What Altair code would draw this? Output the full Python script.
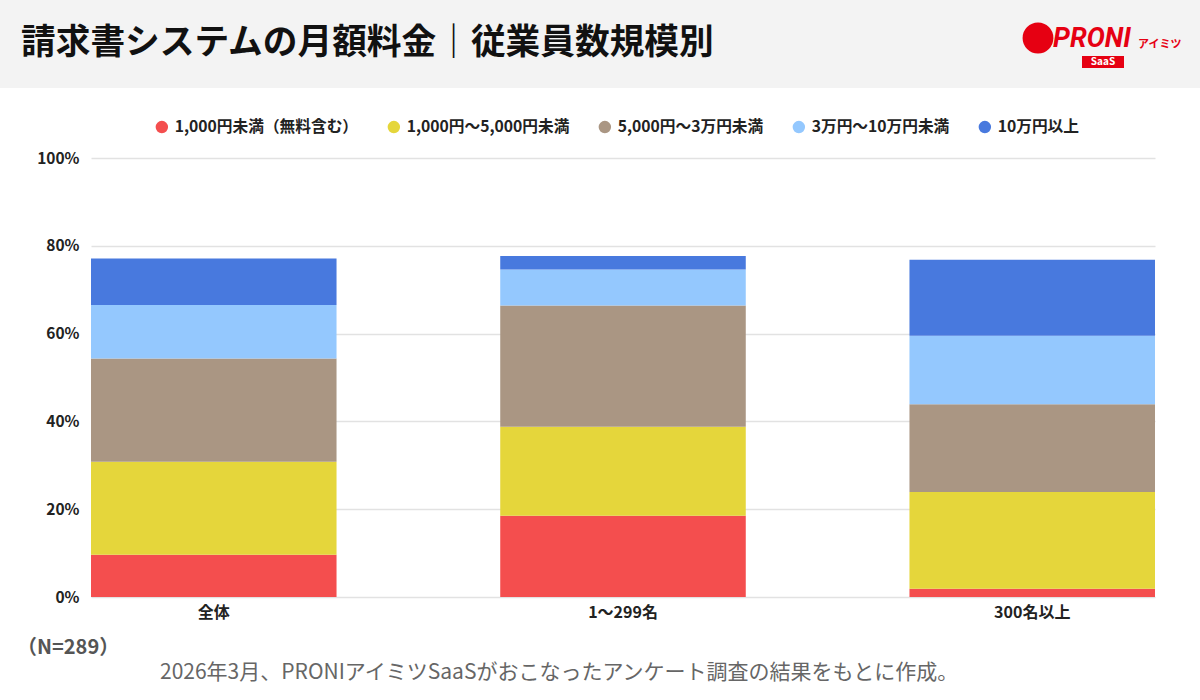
import altair as alt
import pandas as pd

categories = ["全体", "1〜299名", "300名以上"]
series = ["1,000円未満（無料含む）", "1,000円〜5,000円未満", "5,000円〜3万円未満", "3万円〜10万円未満", "10万円以上"]
colors = ["#F44E4E", "#E5D63B", "#AA9683", "#94C8FE", "#4879DE"]
values = {
    "1,000円未満（無料含む）": [9.6, 18.5, 1.9],
    "1,000円〜5,000円未満": [21.2, 20.3, 22.0],
    "5,000円〜3万円未満": [23.5, 27.6, 20.0],
    "3万円〜10万円未満": [12.2, 8.2, 15.6],
    "10万円以上": [10.6, 3.1, 17.3],
}
y_ticks = [0, 20, 40, 60, 80, 100]
title_text = "請求書システムの月額料金｜従業員数規模別"
n_text = "（N=289）"
source_text = "2026年3月、PRONIアイミツSaaSがおこなったアンケート調査の結果をもとに作成。"

rows = []
for si, s in enumerate(series):
    for ci, c in enumerate(categories):
        rows.append({"category": c, "series": s, "order": si, "value": values[s][ci]})
df = pd.DataFrame(rows)

FONT = "Noto Sans CJK JP"
PL, PT = 91, 158
W, H = 1064, 439


def X(px):
    return px - PL


def Y(py):
    return py - PT


bars = alt.Chart(df).mark_bar().encode(
    x=alt.X("category:N", sort=categories,
            scale=alt.Scale(paddingInner=0.4, paddingOuter=0),
            axis=alt.Axis(title=None, labelAngle=0, ticks=False, domain=False,
                          labelFont=FONT, labelFontSize=16, labelFontWeight="bold",
                          labelColor="#222222", labelPadding=7)),
    y=alt.Y("value:Q", stack="zero", scale=alt.Scale(domain=[0, 100], nice=False),
            axis=alt.Axis(title=None, values=y_ticks, labelExpr="datum.value + '%'",
                          ticks=False, domain=False, labelFont=FONT, labelFontSize=15.5,
                          labelFontWeight="bold", labelColor="#222222", labelPadding=12,
                          gridColor="#E2E2E2", gridWidth=1.5)),
    color=alt.Color("series:N", sort=series,
                    scale=alt.Scale(domain=series, range=colors),
                    legend=alt.Legend(title=None, orient="none", direction="horizontal",
                                      legendX=X(154), legendY=Y(119),
                                      symbolType="circle", symbolSize=155,
                                      symbolStrokeWidth=0, symbolOpacity=1,
                                      labelFont=FONT, labelFontSize=15.7,
                                      labelFontWeight="bold", labelColor="#222222",
                                      labelOffset=5, columnPadding=27,
                                      labelLimit=300)),
    order=alt.Order("order:Q", sort="ascending"),
)

one = alt.Data(values=[{}])

header = alt.Chart(one).mark_rect(color="#F3F3F3").encode(
    x=alt.value(X(0)), x2=alt.value(X(1200)), y=alt.value(Y(0)), y2=alt.value(Y(88))
)

title = alt.Chart(one).mark_text(
    align="left", baseline="middle", font=FONT, fontSize=34.7, fontWeight="bold", color="#111111"
).encode(x=alt.value(X(21)), y=alt.value(Y(44)), text=alt.value(title_text))

logo_circle = alt.Chart(one).mark_point(
    shape="circle", filled=True, color="#E60012", opacity=1, size=950
).encode(x=alt.value(X(1038)), y=alt.value(Y(38)))

logo_text = alt.Chart(one).mark_text(
    align="left", baseline="middle", font="Roboto", fontSize=27, fontWeight="bold",
    fontStyle="italic", color="#E60012"
).encode(x=alt.value(X(1053)), y=alt.value(Y(39)), text=alt.value("PRONI"))

logo_kana = alt.Chart(one).mark_text(
    align="left", baseline="middle", font=FONT, fontSize=11, fontWeight="bold", color="#E60012"
).encode(x=alt.value(X(1138)), y=alt.value(Y(45)), text=alt.value("アイミツ"))

logo_badge = alt.Chart(one).mark_rect(color="#E60012").encode(
    x=alt.value(X(1082)), x2=alt.value(X(1124)), y=alt.value(Y(56)), y2=alt.value(Y(68))
)

logo_saas = alt.Chart(one).mark_text(
    align="center", baseline="middle", font=FONT, fontSize=10, fontWeight="bold", color="white"
).encode(x=alt.value(X(1103)), y=alt.value(Y(62)), text=alt.value("SaaS"))

n_label = alt.Chart(one).mark_text(
    align="left", baseline="middle", font=FONT, fontSize=20, fontWeight="bold", color="#555555"
).encode(x=alt.value(X(17)), y=alt.value(Y(648)), text=alt.value(n_text))

source = alt.Chart(one).mark_text(
    align="left", baseline="middle", font=FONT, fontSize=21, color="#666666"
).encode(x=alt.value(X(160)), y=alt.value(Y(673)), text=alt.value(source_text))

chart = alt.layer(
    header, title, logo_circle, logo_text, logo_kana, logo_badge, logo_saas,
    bars, n_label, source
).properties(
    width=W, height=H,
    autosize=alt.AutoSizeParams(type="none"),
    padding={"left": PL, "top": PT, "right": 1200 - PL - W, "bottom": 700 - PT - H},
    background="white",
).configure_view(stroke=None)

chart.save("out.html", embed_options={"renderer": "svg", "actions": False})
